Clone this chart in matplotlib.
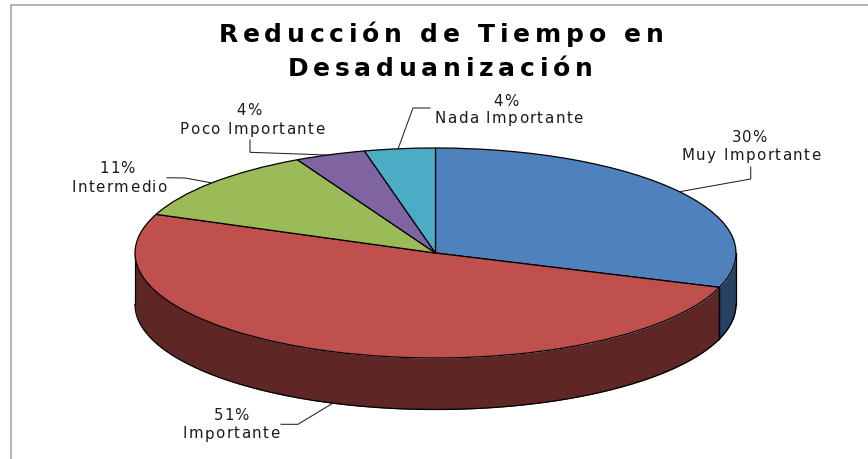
import numpy as np
import matplotlib
matplotlib.use("Agg")
import matplotlib.pyplot as plt
from matplotlib import font_manager
from matplotlib.ft2font import LoadFlags
from matplotlib.lines import Line2D
from matplotlib.text import Text
from matplotlib.transforms import Affine2D, IdentityTransform

W, H = 868, 459
categories = ["Muy Importante", "Importante", "Intermedio", "Poco Importante", "Nada Importante"]
values = [30.3, 50.7, 11.4, 3.8, 3.8]
top_colors = ["#4F81BD", "#C0504D", "#9BBB59", "#8064A2", "#4BACC6"]
wall_colors = ["#264161", "#5F2626", "#4F5F2C", "#403250", "#245663"]
title_lines = ["Reducción de Tiempo en", "Desaduanización"]

# Layout (pixels)
CX, CY, RX, RY, DEPTH = 435.5, 253.0, 300.5, 105.0, 51.5
pct_pos = [(749, 142.5), (231, 420), (117, 173), (249, 115), (505.7, 105.5)]
name_pos = [(751, 160), (231, 438.5), (119, 192), (252, 134), (508.5, 123)]
title_pos = [(441, 42), (440, 76.5)]
leaders = [
    [(679.7, 191.7), (750.7, 179), (750.7, 167)],
    [(281, 424.3), (298, 424.3), (332, 403.7)],
    [(167, 177.7), (185, 178), (210.7, 182.7)],
    [(250, 140), (250, 152.3), (327, 155)],
    [(430, 108), (413, 108), (398, 149)],
]


class TrackedText(Text):
    """Text that keeps its whole string but is laid out with extra letter spacing."""

    def __init__(self, *args, tracking=0.0, **kwargs):
        super().__init__(*args, **kwargs)
        self.tracking = tracking

    def draw(self, renderer):
        s = self.get_text()
        fp = self.get_fontproperties()
        font = font_manager.get_font(font_manager.findfont(fp))
        font.set_size(fp.get_size_in_points(), self.get_figure().dpi)
        adv = []
        for ch in s:
            g = font.load_char(ord(ch), flags=LoadFlags.NO_HINTING)
            adv.append(g.linearHoriAdvance / 65536)
        total = sum(adv) + self.tracking * (len(s) - 1)
        x, y = self.get_transform().transform(self.get_position())
        x -= total / 2
        for ch, a in zip(s, adv):
            if ch != " ":
                t = Text(x, y, ch, fontproperties=fp, color=self.get_color(),
                         ha="left", va="baseline", transform=IdentityTransform())
                t.set_figure(self.get_figure())
                t.draw(renderer)
            x += a + self.tracking


fig = plt.figure(figsize=(W / 100, H / 100), dpi=100, facecolor="white")
ax = fig.add_axes([0, 0, 1, 1])
px = Affine2D().scale(1, -1).translate(0, H)

# Pie wall, drawn from the same values
depth = DEPTH / RY
edges = 90 - 3.6 * np.cumsum([0] + values)
for i, v in enumerate(values):
    hi, lo = edges[i], edges[i + 1]
    for shift in (0, -360):
        a = max(lo, 180 + shift)
        b = min(hi, 360 + shift)
        if a < b:
            t = np.radians(np.linspace(a, b, 200))
            x, y = np.cos(t), np.sin(t)
            ax.fill_between(x, y, y - depth, color=wall_colors[i], lw=0, zorder=1)
            ax.plot(x, y - depth, color="black", lw=0.9, zorder=2)
            for tt in (t[0], t[-1]):
                ax.plot([np.cos(tt)] * 2, [np.sin(tt), np.sin(tt) - depth],
                        color="black", lw=0.9, zorder=2)

wedges, _ = ax.pie(values, colors=top_colors, startangle=90, counterclock=False, radius=1,
                   wedgeprops=dict(edgecolor="black", linewidth=0.9))
for w in wedges:
    w.set_zorder(3)

ax.set_aspect("auto")
ax.set_xlim(-CX / RX, (W - CX) / RX)
ax.set_ylim((CY - H) / RY, CY / RY)
ax.axis("off")

# Frame
fig.add_artist(Line2D([10.5, 10.5, W], [H, 5, 5], color="#A6A6A6", lw=1.2, transform=px))

# Leaders
for seg in leaders:
    xs, ys = zip(*seg)
    fig.add_artist(Line2D(xs, ys, color="#222222", lw=0.75, transform=px))


def tracked(s, pos, tracking, **kw):
    fig.add_artist(TrackedText(pos[0], pos[1], s, tracking=tracking, transform=px,
                               ha="center", va="baseline", **kw))


# Labels
for name, v, p1, p2 in zip(categories, values, pct_pos, name_pos):
    tracked(f"{round(v)}%", p1, 0.8, fontsize=10.8, family="DejaVu Sans", color="#1a1a1a")
    tracked(name, p2, 1.5, fontsize=10.8, family="DejaVu Sans", color="#1a1a1a")

# Title
for line, pos in zip(title_lines, title_pos):
    tracked(line, pos, 4.8, fontsize=18, fontweight="bold", family="DejaVu Sans", color="black")

fig.savefig("out.png", dpi=100)
